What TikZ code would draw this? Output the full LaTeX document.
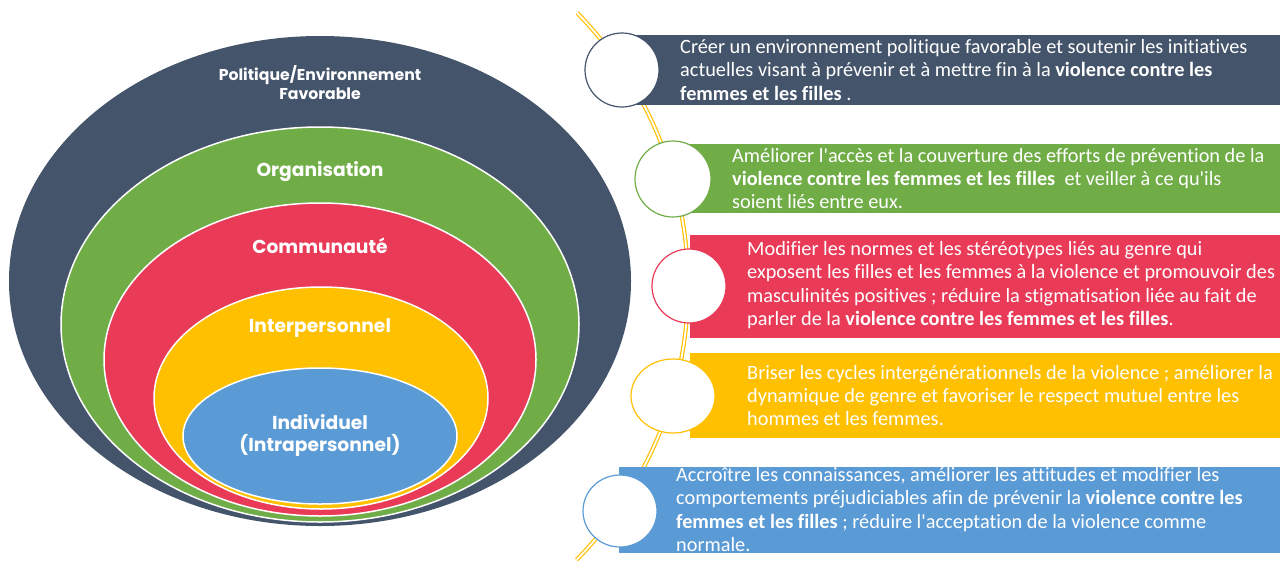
\documentclass[tikz,border=0pt]{standalone}
\usepackage{fontspec}
\setmainfont{Carlito}[Ligatures={TeXOff,CommonOff}]
\newfontfamily\gothic{Poppins}
\usetikzlibrary{shapes.geometric}
\definecolor{cdark}{HTML}{44546A}
\definecolor{cgreen}{HTML}{70AD47}
\definecolor{cred}{HTML}{E93A58}
\definecolor{cyel}{HTML}{FFC000}
\definecolor{cblue}{HTML}{5B9BD5}
\begin{document}
\begin{tikzpicture}[x=1pt,y=-1pt,
  ring/.style={draw=white,line width=1.5pt},
  lvl/.style={text=white,align=center,inner sep=0pt,font=\gothic\bfseries\fontsize{18.7}{22}\selectfont},
  dot/.style={circle,draw=#1,fill=white,line width=1.2pt,minimum size=74pt,inner sep=0pt},
  bar/.style={rectangle,fill=#1,draw=none,inner sep=0pt,anchor=north west},
  txt/.style={text=white,align=left,inner sep=0pt,anchor=west,font=\fontsize{20.3}{23.3}\selectfont}]
\useasboundingbox (0,0) rectangle (1281,560);
% nested ellipses
\fill[cdark] (320,281) ellipse [x radius=311pt, y radius=245pt];
\filldraw[ring,fill=cgreen] (320,324.5) ellipse [x radius=259pt, y radius=197.5pt];
\filldraw[ring,fill=cred] (320,359.5) ellipse [x radius=216pt, y radius=156.5pt];
\filldraw[ring,fill=cyel] (321,398) ellipse [x radius=167pt, y radius=111pt];
\filldraw[ring,fill=cblue] (320,436) ellipse [x radius=137pt, y radius=68pt];
\node[lvl,font=\gothic\bfseries\fontsize{15.7}{19}\selectfont] (lpol) at (320,83) {Politique/Environnement\\Favorable};
\node[lvl] (lorg) at (320,172) {Organisation};
\node[lvl] (lcom) at (320,246) {Communauté};
\node[lvl] (lint) at (320,328) {Interpersonnel};
\node[lvl] (lind) at (320,435) {Individuel\\(Intrapersonnel)};
% timeline
\draw[cyel,line width=1.2pt,double=white,double distance=1.8pt] (577.1,12.8) arc[start angle=44.2, end angle=-44.3, radius=392pt];
% bars
\node[bar=cdark,minimum width=658pt,minimum height=70pt] (b1) at (622,35) {};
\node[bar=cgreen,minimum width=607pt,minimum height=69pt] (b2) at (673,144) {};
\node[bar=cred,minimum width=590pt,minimum height=103pt] (b3) at (690,235) {};
\node[bar=cyel,minimum width=590pt,minimum height=85pt] (b4) at (690,353) {};
\node[bar=cblue,minimum width=661pt,minimum height=86pt] (b5) at (619,467) {};
% circles
\node[dot=cdark] (c1) at (622,70) {};
\node[dot=cgreen,minimum size=76pt] (c2) at (673,179) {};
\node[dot=cred] (c3) at (689,286) {};
\node[dot=cyel,ellipse,minimum width=84pt,minimum height=74pt] (c4) at (673,396) {};
\node[dot=cblue,ellipse,minimum width=74pt,minimum height=72pt] (c5) at (620,511) {};
% texts
\node[txt] (t1) at (680,70) {Créer un environnement politique favorable et soutenir les initiatives\\actuelles visant à prévenir et à mettre fin à la \textbf{violence contre les}\\\textbf{femmes et les filles} .};
\node[txt] (t2) at (732,178.5) {Améliorer l'accès et la couverture des efforts de prévention de la\\\textbf{violence contre les femmes et les filles}~ et veiller à ce qu'ils\\soient liés entre eux.};
\node[txt] (t3) at (747,285) {Modifier les normes et les stéréotypes liés au genre qui\\exposent les filles et les femmes à la violence et promouvoir des\\masculinités positives ; réduire la stigmatisation liée au fait de\\parler de la \textbf{violence contre les femmes et les filles}.};
\node[txt] (t4) at (747,395.5) {Briser les cycles intergénérationnels de la violence ; améliorer la\\dynamique de genre et favoriser le respect mutuel entre les\\hommes et les femmes.};
\node[txt] (t5) at (676,509.5) {Accroître les connaissances, améliorer les attitudes et modifier les\\comportements préjudiciables afin de prévenir la \textbf{violence contre les}\\\textbf{femmes et les filles} ; réduire l'acceptation de la violence comme\\normale.};
\end{tikzpicture}
\end{document}
